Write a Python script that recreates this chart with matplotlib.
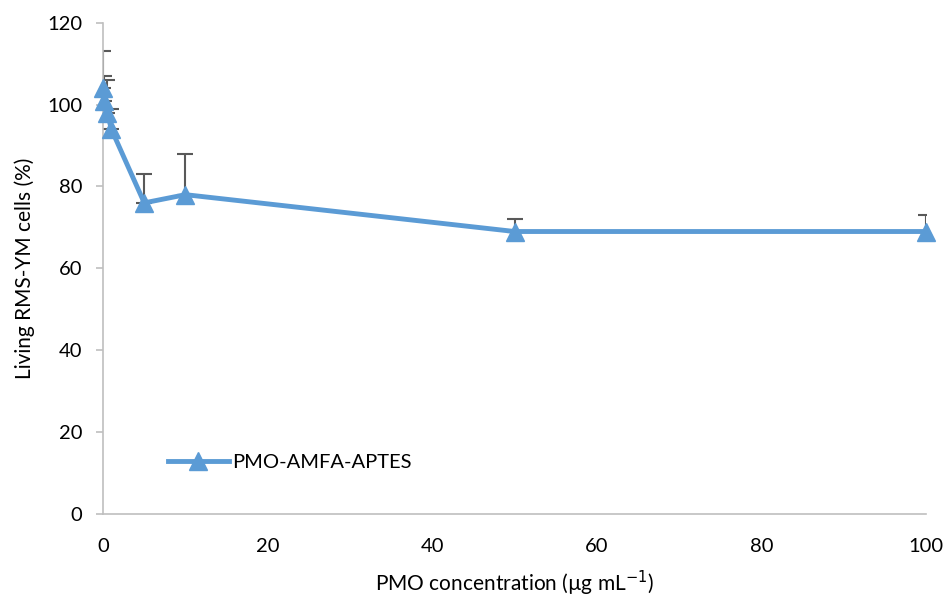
import matplotlib
matplotlib.use("Agg")
import matplotlib.pyplot as plt
import numpy as np

concentration = [0.01, 0.1, 0.5, 1, 5, 10, 50, 100]
living_cells = [104, 101, 98, 94, 76, 78, 69, 69]
upper_error = [9, 6, 8, 5, 7, 10, 3, 4]
series_name = "PMO-AMFA-APTES"
x_ticks = [0, 20, 40, 60, 80, 100]
y_ticks = [0, 20, 40, 60, 80, 100, 120]

plt.rcParams['font.family'] = ['Lato', 'DejaVu Sans']

fig = plt.figure(figsize=(9.46, 5.99), dpi=100)
ax = fig.add_axes([0.109, 0.142, 0.870, 0.820])

ax.errorbar(concentration, living_cells,
            yerr=[np.zeros(len(upper_error)), upper_error],
            fmt='none', ecolor='#595959', elinewidth=1.5, capsize=6,
            capthick=1.5, zorder=2)
ax.plot(concentration, living_cells, color='#5B9BD5', linewidth=3.5,
        marker='^', markersize=13, label=series_name, zorder=3,
        clip_on=False)

ax.set_xlim(0, 100)
ax.set_ylim(0, 120)
ax.set_xticks(x_ticks)
ax.set_yticks(y_ticks)
ax.tick_params(axis='y', labelsize=14.5, colors='#bfbfbf', labelcolor='black',
               length=5, width=1.2, pad=10)
ax.tick_params(axis='x', labelsize=14.5, labelcolor='black', length=0, pad=17)

for side in ('top', 'right'):
    ax.spines[side].set_visible(False)
for side in ('left', 'bottom'):
    ax.spines[side].set_color('#bfbfbf')
    ax.spines[side].set_linewidth(1.2)

ax.set_xlabel(r"PMO concentration (µg mL$^{-1}$)", fontsize=15, labelpad=10)
ax.set_ylabel("Living RMS-YM cells (%)", fontsize=15, labelpad=9)

ax.legend(loc='lower left', bbox_to_anchor=(0.057, 0.05), frameon=False,
          fontsize=14.5, handlelength=3.0, handletextpad=0.2)

fig.savefig("out.png", dpi=100)
